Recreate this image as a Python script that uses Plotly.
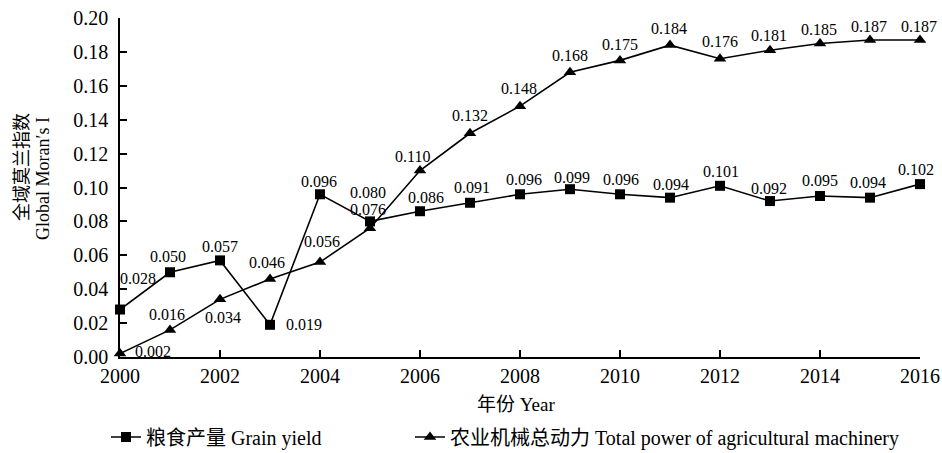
import plotly.graph_objects as go

years = list(range(2000, 2017))
grain_yield = [0.028, 0.050, 0.057, 0.019, 0.096, 0.080, 0.086, 0.091, 0.096,
               0.099, 0.096, 0.094, 0.101, 0.092, 0.095, 0.094, 0.102]
machinery = [0.002, 0.016, 0.034, 0.046, 0.056, 0.076, 0.110, 0.132, 0.148,
             0.168, 0.175, 0.184, 0.176, 0.181, 0.185, 0.187, 0.187]
y_ticks = [0.00, 0.02, 0.04, 0.06, 0.08, 0.10, 0.12, 0.14, 0.16, 0.18, 0.20]
x_ticks = [2000, 2002, 2004, 2006, 2008, 2010, 2012, 2014, 2016]

name_grain = "粮食产量 Grain yield"
name_mach = "农业机械总动力 Total power of agricultural machinery"
y_title_cn = "全域莫兰指数"
y_title_en = "Global Moran′s I"
x_title = "年份 Year"

# label pixel offsets (style only)
grain_off = [(18, -31), (-2, -16), (0, -14), (34, 0), (-1, -13), (-2, -29), (6, -14),
             (2, -15), (4, -15), (2, -12), (1, -15), (1, -13), (1, -14), (-1, -13),
             (0, -15), (-2, -15), (-4, -15)]
mach_off = [(33, -2), (-3, -15), (3, 18), (-3, -17), (2, -21), (-2, -19), (-8, -14),
            (0, -18), (-1, -18), (0, -17), (0, -16), (-1, -17), (0, -17), (-1, -15),
            (-1, -14), (-1, -14), (-1, -14)]

FONT = "Liberation Serif, 'Times New Roman', 'Noto Sans CJK SC', serif"

W, H = 942, 453
L, R, T, B = 120, 22, 18, 96
PW, PH = W - L - R, H - T - B

fig = go.Figure()
fig.add_trace(go.Scatter(x=years, y=grain_yield, mode="lines+markers", name=name_grain,
                         line=dict(color="black", width=1.6),
                         marker=dict(symbol="square", size=10, color="black"),
                         cliponaxis=False, legend="legend"))
fig.add_trace(go.Scatter(x=years, y=machinery, mode="lines+markers", name=name_mach,
                         line=dict(color="black", width=1.6),
                         marker=dict(symbol="triangle-up", size=11, color="black"),
                         cliponaxis=False, legend="legend2"))

for xs, ys, offs in [(years, grain_yield, grain_off), (years, machinery, mach_off)]:
    for xv, yv, (dx, dy) in zip(xs, ys, offs):
        fig.add_annotation(x=xv, y=yv, text=f"{yv:.3f}", showarrow=False,
                           xshift=dx, yshift=-dy, font=dict(size=16, color="black", family=FONT))

def px_x(p):
    return (p - L) / PW

def px_y(p):
    return (H - B - p) / PH

fig.add_annotation(xref="paper", yref="paper", x=px_x(22), y=px_y(167), xanchor="center",
                   yanchor="middle", text=y_title_cn, textangle=-90, showarrow=False,
                   font=dict(size=18, color="black", family=FONT))
fig.add_annotation(xref="paper", yref="paper", x=px_x(43), y=px_y(179), xanchor="center",
                   yanchor="middle", text=y_title_en, textangle=-90, showarrow=False,
                   font=dict(size=18, color="black", family=FONT))
fig.add_annotation(xref="paper", yref="paper", x=px_x(516), y=px_y(404), yanchor="middle",
                   text=x_title, showarrow=False,
                   font=dict(size=19, color="black", family=FONT))

legend_common = dict(orientation="h", xref="container", yref="container",
                     xanchor="left", y=(H - 437) / H, yanchor="middle",
                     font=dict(size=20, family=FONT), bgcolor="rgba(0,0,0,0)")

fig.update_layout(
    width=W, height=H,
    margin=dict(l=L, r=R, t=T, b=B),
    paper_bgcolor="white", plot_bgcolor="white",
    font=dict(family=FONT, color="black"),
    showlegend=True,
    legend=dict(x=106 / W, **legend_common),
    legend2=dict(x=410 / W, **legend_common),
    xaxis=dict(range=[2000, 2016], tickvals=x_ticks, ticks="inside", ticklen=7,
               tickwidth=1.5, tickcolor="black", showline=True, linecolor="black",
               linewidth=1.5, showgrid=False, zeroline=False, automargin=False,
               tickfont=dict(size=20, family=FONT)),
    yaxis=dict(range=[0, 0.2], tickvals=y_ticks, tickformat=".2f", ticks="inside",
               ticklen=7, tickwidth=1.5, tickcolor="black", showline=True,
               linecolor="black", linewidth=1.5, showgrid=False, zeroline=False,
               automargin=False, ticklabelstandoff=6, tickfont=dict(size=20, family=FONT)),
)

fig.write_html("out.html", config={"displayModeBar": False},
               post_script="document.body.style.margin='0px';")
